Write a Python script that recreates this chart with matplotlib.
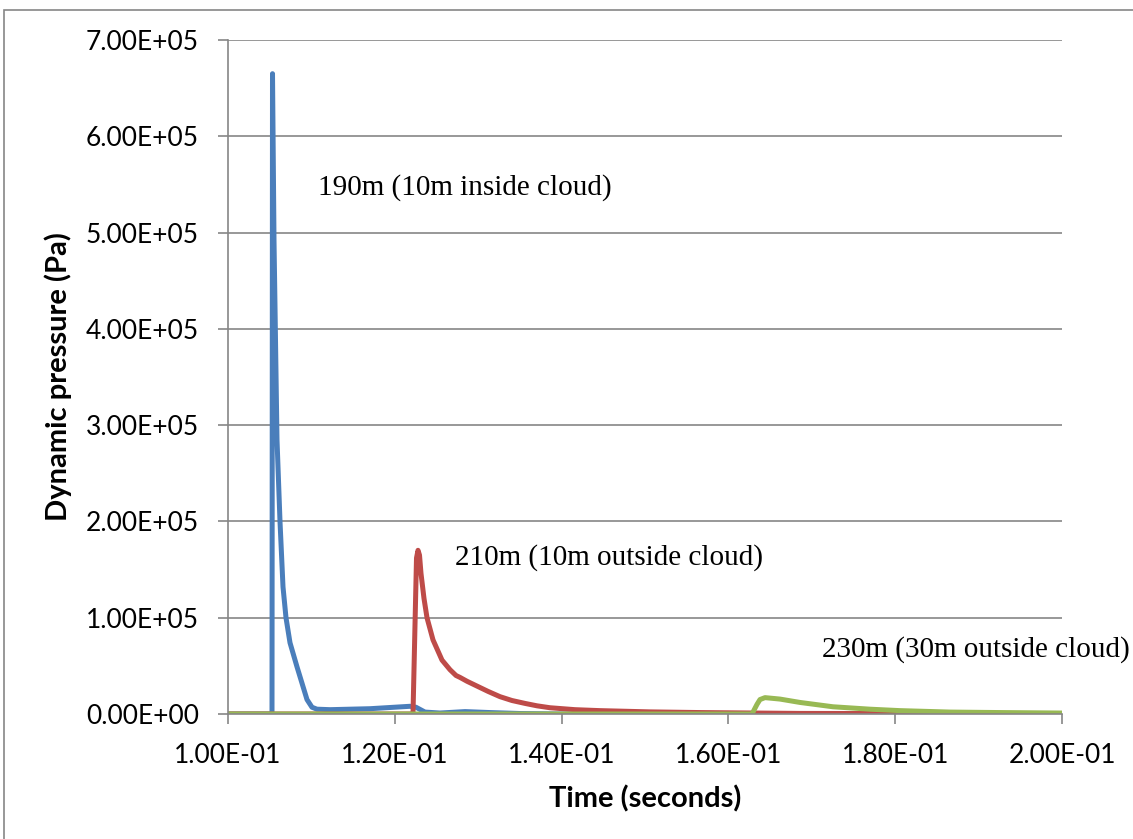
import matplotlib
matplotlib.use("Agg")
import matplotlib.pyplot as plt
from matplotlib.ticker import FuncFormatter, MultipleLocator
from matplotlib.patches import Rectangle

# ---- data (time in seconds, dynamic pressure in Pa) ----
t_190 = [0.100, 0.105276, 0.105336, 0.105516, 0.105875, 0.106235, 0.106595,
         0.106954, 0.107434, 0.108273, 0.108873, 0.109472, 0.110072, 0.110671,
         0.112230, 0.117026, 0.121823, 0.122542, 0.123621, 0.125420, 0.128417,
         0.131415, 0.135012, 0.139808, 0.200]
p_190 = [0, 0, 6.65e5, 4.92e5, 2.85e5, 2.0e5, 1.32e5,
         1.0e5, 0.74e5, 0.49e5, 0.32e5, 0.15e5, 0.07e5, 0.05e5,
         0.045e5, 0.055e5, 0.08e5, 0.07e5, 0.02e5, 0.01e5, 0.025e5,
         0.015e5, 0.005e5, 0, 0]

t_210 = [0.100, 0.122182, 0.122602, 0.122782, 0.122962, 0.123141, 0.123501,
         0.123861, 0.124580, 0.125659, 0.126619, 0.127338, 0.127818, 0.128657,
         0.129616, 0.131175, 0.132614, 0.134053, 0.135612, 0.137050, 0.138609,
         0.141607, 0.144604, 0.150600, 0.156595, 0.168585, 0.200]
p_210 = [0, 0, 1.62e5, 1.70e5, 1.65e5, 1.46e5, 1.2e5,
         1.0e5, 0.77e5, 0.56e5, 0.46e5, 0.40e5, 0.38e5, 0.34e5,
         0.30e5, 0.235e5, 0.18e5, 0.14e5, 0.11e5, 0.085e5, 0.065e5,
         0.045e5, 0.035e5, 0.022e5, 0.015e5, 0.006e5, 0.002e5]

t_230 = [0.100, 0.162830, 0.163429, 0.163789, 0.164388, 0.166187, 0.168585,
         0.172542, 0.176978, 0.180576, 0.186571, 0.192566, 0.200]
p_230 = [0, 0, 0.10e5, 0.15e5, 0.17e5, 0.155e5, 0.12e5,
         0.075e5, 0.05e5, 0.035e5, 0.02e5, 0.015e5, 0.01e5]

labels = ["190m (10m inside cloud)", "210m (10m outside cloud)", "230m (30m outside cloud)"]
colors = ["#4A7EBB", "#BE4B48", "#98B954"]

W, H = 1133, 839
fig = plt.figure(figsize=(W / 100, H / 100), dpi=100)
ax = fig.add_axes([228 / W, 1 - 714 / H, (1062 - 228) / W, (714 - 40) / H])

# outer chart border (bottom and right edges fall outside the image)
fig.patches.append(Rectangle((4 / W, -0.1), 1.2, 1.1 - 10 / H, transform=fig.transFigure,
                             fill=False, edgecolor="#868686", linewidth=1.2))

for t, p, c in zip([t_190, t_210, t_230], [p_190, p_210, p_230], colors):
    ax.plot(t, p, color=c, linewidth=3.6, solid_joinstyle="round", solid_capstyle="round")

ax.set_xlim(0.1, 0.2)
ax.set_ylim(0, 7e5)
ax.xaxis.set_major_locator(MultipleLocator(0.02))
ax.yaxis.set_major_locator(MultipleLocator(1e5))
fmt = FuncFormatter(lambda v, pos: f"{v:.2E}")
ax.xaxis.set_major_formatter(fmt)
ax.yaxis.set_major_formatter(fmt)

ax.grid(axis="y", color="#868686", linewidth=1.2)
ax.set_axisbelow(True)
for s in ["top", "right"]:
    ax.spines[s].set_visible(False)
for s in ["left", "bottom"]:
    ax.spines[s].set_color("#868686")
    ax.spines[s].set_linewidth(1.2)
ax.tick_params(axis="both", direction="out", length=7, width=1.2, color="#868686",
               labelsize=19)
ax.tick_params(axis="y", pad=14)
ax.tick_params(axis="x", pad=14)
for lab in ax.get_xticklabels() + ax.get_yticklabels():
    lab.set_fontfamily("Lato")

ax.set_xlabel("Time (seconds)", fontfamily="Lato", fontweight="bold", fontsize=21, labelpad=12)
ax.set_ylabel("Dynamic pressure (Pa)", fontfamily="Lato", fontweight="bold", fontsize=21, labelpad=10)

serif = "Liberation Serif"
ax.text(0.11080, 5.47e5, labels[0], fontfamily=serif, fontsize=21, va="center", ha="left")
ax.text(0.12720, 1.62e5, labels[1], fontfamily=serif, fontsize=21, va="center", ha="left")
ax.text(0.17120, 0.665e5, labels[2], fontfamily=serif, fontsize=21, va="center", ha="left",
        clip_on=False)

fig.savefig("out.png", dpi=100)
